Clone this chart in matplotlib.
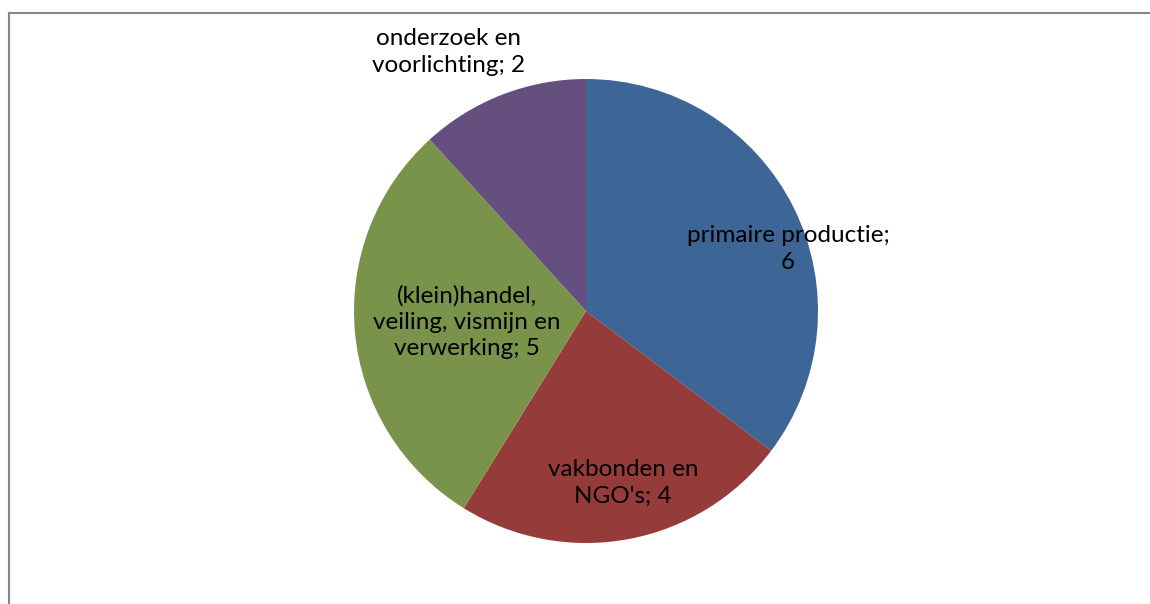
import matplotlib.pyplot as plt
from matplotlib.lines import Line2D

# data
categories = ["primaire productie", "vakbonden en\nNGO's", "(klein)handel,\nveiling, vismijn en\nverwerking",
              "onderzoek en\nvoorlichting"]
values = [6, 4, 5, 2]
colors = ["#3D6596", "#953C3A", "#79944A", "#644F7E"]

# label text layout (pixel positions in the figure)
label_text = ["primaire productie;\n6", "vakbonden en\nNGO's; 4",
              "(klein)handel,\nveiling, vismijn en\nverwerking; 5", "onderzoek en\nvoorlichting; 2"]
label_pos = [(788, 249), (623, 483), (467, 322), (449, 52)]

W, H = 1150, 604
fig = plt.figure(figsize=(W / 100, H / 100), dpi=100)
ax = fig.add_axes([0, 0, 1, 1])

cx, cy, r = 586, H - 311, 232
ax.pie(values, colors=colors, startangle=90, counterclock=False,
       center=(cx, cy), radius=r, frame=True,
       wedgeprops=dict(linewidth=0))
ax.set_xlim(0, W)
ax.set_ylim(0, H)
ax.set_aspect("equal")
ax.axis("off")

for txt, (x, y) in zip(label_text, label_pos):
    ax.text(x, H - y, txt, ha="center", va="center", fontsize=17.5,
            family=["Lato", "DejaVu Sans"], linespacing=1.32, color="black")

# chart frame (top and left edges visible)
fig.add_artist(Line2D([9 / W, 1], [1 - 12.5 / H, 1 - 12.5 / H], color="#868686", lw=1.5,
                      transform=fig.transFigure))
fig.add_artist(Line2D([9 / W, 9 / W], [0, 1 - 12.5 / H], color="#868686", lw=1.5,
                      transform=fig.transFigure))

fig.savefig("out.png", dpi=100)
